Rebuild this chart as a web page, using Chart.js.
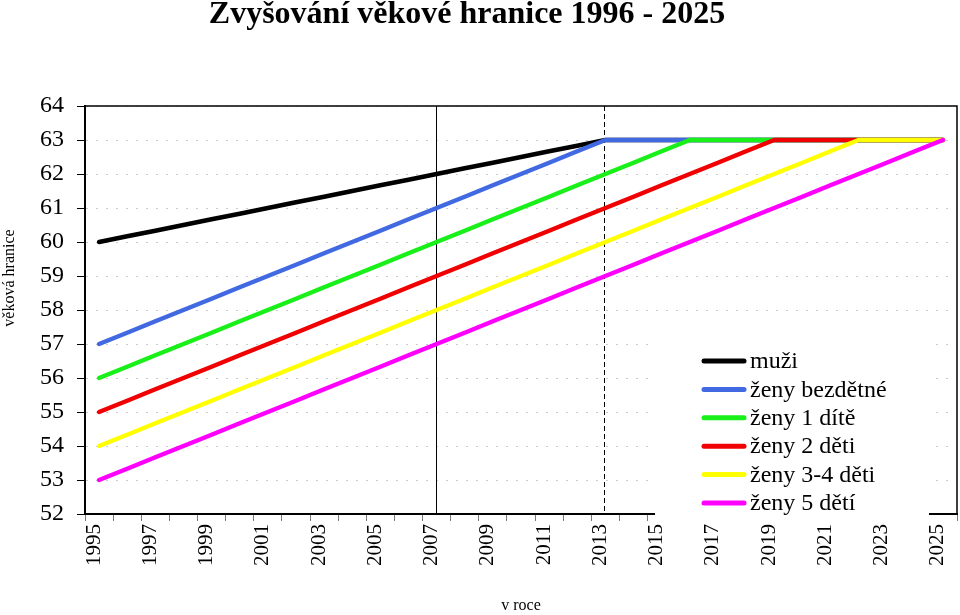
<!DOCTYPE html>
<html>
<head>
<meta charset="utf-8">
<script src="https://cdn.jsdelivr.net/npm/chart.js@4"></script>
<style>
  html, body { margin: 0; padding: 0; background: #fff; }
  #wrap { width: 960px; height: 615px; }
</style>
</head>
<body>
<div id="wrap"><canvas id="ageChart" width="960" height="615"></canvas></div>
<script>
const years = [1995, 1996, 1997, 1998, 1999, 2000, 2001, 2002, 2003, 2004, 2005, 2006, 2007, 2008, 2009, 2010,
  2011, 2012, 2013, 2014, 2015, 2016, 2017, 2018, 2019, 2020, 2021, 2022, 2023, 2024, 2025];

const muzi = [60, 60.17, 60.33, 60.5, 60.67, 60.83, 61, 61.17, 61.33, 61.5, 61.67, 61.83, 62, 62.17, 62.33, 62.5,
  62.67, 62.83, 63, 63, 63, 63, 63, 63, 63, 63, 63, 63, 63, 63, 63];
const zenyBezdetne = [57, 57.33, 57.67, 58, 58.33, 58.67, 59, 59.33, 59.67, 60, 60.33, 60.67, 61, 61.33, 61.67, 62,
  62.33, 62.67, 63, 63, 63, 63, 63, 63, 63, 63, 63, 63, 63, 63, 63];
const zeny1 = [56, 56.33, 56.67, 57, 57.33, 57.67, 58, 58.33, 58.67, 59, 59.33, 59.67, 60, 60.33, 60.67, 61,
  61.33, 61.67, 62, 62.33, 62.67, 63, 63, 63, 63, 63, 63, 63, 63, 63, 63];
const zeny2 = [55, 55.33, 55.67, 56, 56.33, 56.67, 57, 57.33, 57.67, 58, 58.33, 58.67, 59, 59.33, 59.67, 60,
  60.33, 60.67, 61, 61.33, 61.67, 62, 62.33, 62.67, 63, 63, 63, 63, 63, 63, 63];
const zeny34 = [54, 54.33, 54.67, 55, 55.33, 55.67, 56, 56.33, 56.67, 57, 57.33, 57.67, 58, 58.33, 58.67, 59,
  59.33, 59.67, 60, 60.33, 60.67, 61, 61.33, 61.67, 62, 62.33, 62.67, 63, 63, 63, 63];
const zeny5 = [53, 53.33, 53.67, 54, 54.33, 54.67, 55, 55.33, 55.67, 56, 56.33, 56.67, 57, 57.33, 57.67, 58,
  58.33, 58.67, 59, 59.33, 59.67, 60, 60.33, 60.67, 61, 61.33, 61.67, 62, 62.33, 62.67, 63];

const seriesNames = ['muži', 'ženy bezdětné', 'ženy 1 dítě', 'ženy 2 děti', 'ženy 3-4 děti', 'ženy 5 dětí'];
const seriesColors = ['#000000', '#4169e1', '#19f019', '#f00000', '#ffff00', '#ff00ff'];
const seriesValues = [muzi, zenyBezdetne, zeny1, zeny2, zeny34, zeny5];

// roky se svislou čárou: plná a přerušovaná
const markYears = [2007, 2013];

const yMin = 52;
const yMax = 64;

const serif = "'Liberation Serif', 'Times New Roman', serif";

const datasets = seriesValues.map((vals, i) => ({
  label: seriesNames[i],
  data: vals,
  borderColor: seriesColors[i],
  backgroundColor: seriesColors[i],
  borderWidth: 4.5,
  borderCapStyle: 'round',
  borderJoinStyle: 'round',
  pointRadius: 0,
  tension: 0,
  fill: false,
  order: seriesValues.length - i,
}));

const extras = {
  id: 'extras',
  beforeDatasetsDraw(chart) {
    const { ctx, chartArea, scales } = chart;
    ctx.save();
    ctx.strokeStyle = '#000';
    ctx.lineWidth = 1;
    markYears.forEach((yr, k) => {
      const x = Math.round(scales.x.getPixelForValue(years.indexOf(yr))) - 0.5;
      ctx.setLineDash(k === 0 ? [] : [5, 3]);
      ctx.beginPath();
      ctx.moveTo(x, chartArea.top);
      ctx.lineTo(x, chartArea.bottom);
      ctx.stroke();
    });
    ctx.restore();
  },
  afterDraw(chart) {
    const { ctx, chartArea } = chart;
    ctx.save();
    // rámeček nahoře a vpravo
    ctx.strokeStyle = '#000';
    ctx.lineWidth = 1.5;
    ctx.beginPath();
    ctx.moveTo(chartArea.left, chartArea.top);
    ctx.lineTo(chartArea.right, chartArea.top);
    ctx.lineTo(chartArea.right, chartArea.bottom);
    ctx.stroke();

    // nadpis
    ctx.fillStyle = '#000';
    ctx.font = 'bold 32px ' + serif;
    ctx.textAlign = 'center';
    ctx.textBaseline = 'middle';
    ctx.fillText('Zvyšování věkové hranice 1996 - 2025', 467, 15);

    // popis osy y
    ctx.save();
    ctx.translate(10, 278);
    ctx.rotate(-Math.PI / 2);
    ctx.font = '16px ' + serif;
    ctx.fillText('věková hranice', 0, 0);
    ctx.restore();

    // legenda
    ctx.fillStyle = '#fff';
    ctx.fillRect(655, 336, 274, 188);
    ctx.textAlign = 'left';
    ctx.font = '24px ' + serif;
    chart.data.datasets.forEach((ds, i) => {
      const y = 361 + i * 28.4;
      ctx.strokeStyle = ds.borderColor;
      ctx.lineWidth = 5;
      ctx.lineCap = 'round';
      ctx.beginPath();
      ctx.moveTo(704, y);
      ctx.lineTo(744, y);
      ctx.stroke();
      ctx.fillStyle = '#000';
      ctx.fillText(ds.label, 750, y + 1);
    });
    ctx.restore();
  }
};

new Chart(document.getElementById('ageChart'), {
  type: 'line',
  data: { labels: years, datasets },
  options: {
    responsive: false,
    animation: false,
    layout: { padding: { left: 0, right: 3, top: 106, bottom: 0 } },
    plugins: {
      legend: { display: false },
      title: { display: false },
      tooltip: { enabled: false },
    },
    scales: {
      x: {
        type: 'category',
        offset: true,
        afterFit(scale) {
          scale.height = 101;
          scale.paddingLeft = 0;
          scale.paddingRight = 0;
        },
        grid: {
          offset: true,
          drawOnChartArea: false,
          drawTicks: true,
          tickLength: 7,
          tickColor: '#777',
        },
        border: { color: '#000', width: 2 },
        ticks: {
          autoSkip: false,
          maxRotation: 90,
          minRotation: 90,
          labelOffset: -5,
          padding: 3,
          color: '#000',
          font: { family: serif, size: 21 },
          callback(value, index) { return index % 2 === 0 ? years[index] : ''; },
        },
        title: {
          display: true,
          text: 'v roce',
          color: '#000',
          font: { family: serif, size: 16 },
          padding: { top: 0, bottom: 0 },
        },
      },
      y: {
        min: yMin,
        max: yMax,
        afterFit(scale) {
          scale.width = 85;
          scale.paddingTop = 0;
          scale.paddingBottom = 0;
        },
        grid: {
          color: '#cccccc',
          lineWidth: 1,
          tickColor: '#000',
          tickLength: 8,
        },
        border: { color: '#000', width: 2, dash: [2, 8] },
        ticks: {
          stepSize: 1,
          padding: 13,
          color: '#000',
          font: { family: serif, size: 24 },
        },
      },
    },
  },
  plugins: [extras],
});
</script>
</body>
</html>
